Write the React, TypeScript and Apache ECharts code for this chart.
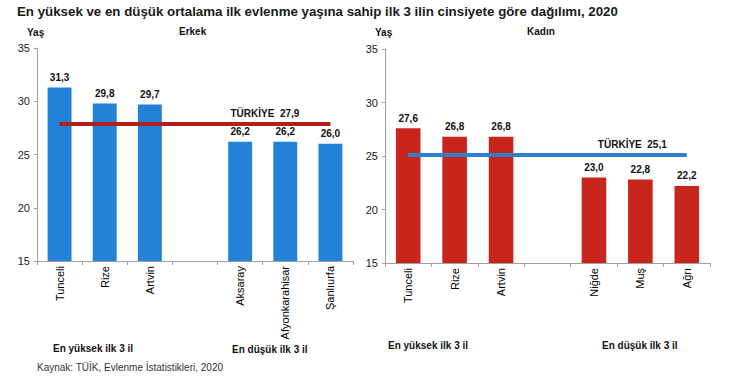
import React, { useEffect, useRef } from "react";
import * as echarts from "echarts";

const maleCategories = ["Tunceli", "Rize", "Artvin", "", "Aksaray", "Afyonkarahisar", "Şanlıurfa"];
const maleValues: (number | string)[] = [31.3, 29.8, 29.7, "-", 26.2, 26.2, 26.0];
const maleTurkey = 27.9;

const femaleCategories = ["Tunceli", "Rize", "Artvin", "", "Niğde", "Muş", "Ağrı"];
const femaleValues: (number | string)[] = [27.6, 26.8, 26.8, "-", 23.0, 22.8, 22.2];
const femaleTurkey = 25.1;

const yMin = 15;
const yMax = 35;
const yInterval = 5;

const FONT = "Liberation Sans, Arial, sans-serif";
const fmt = (v: number) => v.toFixed(1).replace(".", ",");

export default function App() {
  const ref = useRef<HTMLDivElement>(null);
  useEffect(() => {
    document.body.style.margin = "0";
    const chart = echarts.init(ref.current!, null, { renderer: "svg" });

    const xAxisCommon = (cats: string[], gridIndex: number) => ({
      type: "category",
      gridIndex,
      data: cats,
      axisLine: { lineStyle: { color: "#a0a0a0", width: 1 } },
      axisTick: { show: true, interval: 0, length: 4, lineStyle: { color: "#a0a0a0" } },
      axisLabel: {
        interval: 0,
        rotate: 90,
        margin: 5,
        fontFamily: FONT,
        fontSize: 11,
        color: "#000",
      },
    });
    const yAxisCommon = (gridIndex: number) => ({
      type: "value",
      gridIndex,
      min: yMin,
      max: yMax,
      interval: yInterval,
      splitLine: { show: false },
      axisLine: { show: true, lineStyle: { color: "#a0a0a0" } },
      axisTick: { show: true, length: 3, lineStyle: { color: "#a0a0a0" } },
      axisLabel: { fontFamily: FONT, fontSize: 11, color: "#222", margin: 7 },
    });

    const barSeries = (data: (number | string)[], idx: number, color: string, lineColor: string, turkey: number) => ({
      type: "bar",
      xAxisIndex: idx,
      yAxisIndex: idx,
      data,
      barWidth: "53%",
      itemStyle: { color },
      label: {
        show: true,
        position: "top",
        distance: 5,
        fontFamily: FONT,
        fontSize: 10,
        fontWeight: "bold",
        color: "#111",
        formatter: (p: any) => fmt(p.value),
      },
      markLine: {
        silent: true,
        symbol: "none",
        lineStyle: { color: lineColor, width: 4, type: "solid" },
        label: {
          show: true,
          position: "insideEndTop",
          distance: idx === 0 ? [31, 5] : [20, 5],
          fontFamily: FONT,
          fontSize: 10,
          fontWeight: "bold",
          color: "#111",
          formatter: "TÜRKİYE  " + fmt(turkey),
        },
        data: [[{ coord: [0, turkey] }, { coord: [6, turkey] }]],
      },
    });

    const t = (text: string, left: number, top: number, size: number, weight = "bold", color = "#111") => ({
      text,
      left,
      top,
      padding: 0,
      textStyle: { fontFamily: FONT, fontSize: size, fontWeight: weight, color },
    });

    chart.setOption({
      animation: false,
      backgroundColor: "#fff",
      title: [
        t("En yüksek ve en düşük ortalama ilk evlenme yaşına sahip ilk 3 ilin cinsiyete göre dağılımı, 2020", 17, 5, 13.3, "bold", "#1a1a1a"),
        t("Yaş", 27, 27, 10),
        t("Erkek", 179, 26, 10),
        t("Yaş", 375, 27, 10),
        t("Kadın", 527, 26, 10),
        t("En yüksek ilk 3 il", 53, 343, 10),
        t("En düşük ilk 3 il", 232, 344, 10),
        t("En yüksek ilk 3 il", 388, 340, 10),
        t("En düşük ilk 3 il", 602, 340, 10),
        t("Kaynak: TÜİK, Evlenme İstatistikleri, 2020", 37, 362, 10, "normal", "#333"),
      ],
      grid: [
        { left: 37, top: 48, width: 316, height: 213 },
        { left: 385, top: 49, width: 325, height: 214 },
      ],
      xAxis: [xAxisCommon(maleCategories, 0), xAxisCommon(femaleCategories, 1)],
      yAxis: [yAxisCommon(0), yAxisCommon(1)],
      series: [
        barSeries(maleValues, 0, "#2382d8", "#b1211c", maleTurkey),
        barSeries(femaleValues, 1, "#c8261c", "#2f7fca", femaleTurkey),
      ],
    });
    return () => chart.dispose();
  }, []);
  return <div ref={ref} style={{ width: 752, height: 388, position: "fixed", left: 0, top: 0 }} />;
}
